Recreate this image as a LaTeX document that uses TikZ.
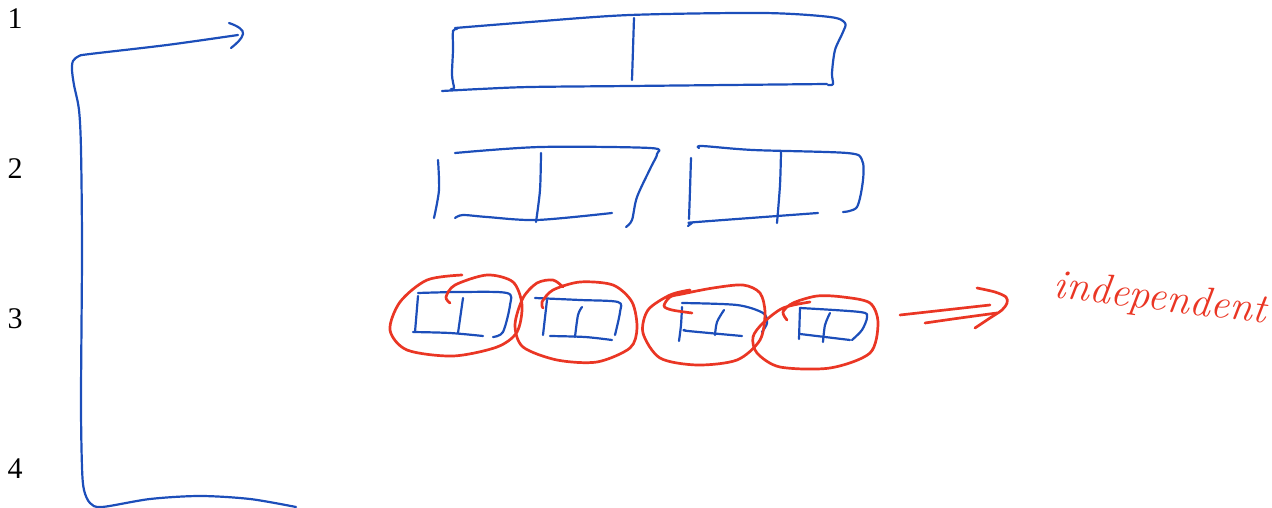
\documentclass[tikz,border=0pt]{standalone}
\usepackage{fontspec}
\usepackage{tikz}
\newfontfamily\numfont{Liberation Serif}
\definecolor{penblue}{RGB}{28,78,186}
\definecolor{penred}{RGB}{234,54,36}
\tikzset{
  bl/.style={draw=penblue,line width=2.2pt,line cap=round,line join=round},
  rd/.style={draw=penred,line width=2.7pt,line cap=round,line join=round},
  num/.style={font=\numfont\fontsize{30}{30}\selectfont,inner sep=0pt,text=black},
}
\begin{document}
\begin{tikzpicture}[x=1pt,y=-1pt]
\useasboundingbox (0,0) rectangle (1272,508);
% row numbers
\node[num] (n1) at (15,19) {1};
\node[num] (n2) at (15,169) {2};
\node[num] (n3) at (15,319) {3};
\node[num] (n4) at (15,469) {4};
% bracket arrow
\draw[bl] plot[smooth,tension=0.5] coordinates {(296,507) (250,499) (200,496) (150,499) (102,507) (90,503) (84,490) (82,467) (81,400) (82,250) (81,150) (79,110) (74,85) (72,70) (73,61) (79,56) (90,54) (167,45) (238,35)};
\draw[bl] (229,23) .. controls (238,26) and (244,30) .. (243,34) .. controls (242,39) and (236,44) .. (231,48);
% row 1
\draw[bl] plot[smooth] coordinates {(457,29) (453,31) (453,50) (452,75) (454,88) (451,89)};
\draw[bl] plot[smooth,tension=0.5] coordinates {(455,28) (530,22) (630,15) (763,13) (830,17) (845,23) (843,32) (835,50) (832,73) (833,84) (828,85)};
\draw[bl] plot[smooth] coordinates {(442,91) (480,89) (530,87) (630,86) (827,84)};
\draw[bl] (634,18) -- (632,80);
% row 2, box A
\draw[bl] plot[smooth] coordinates {(438,160) (439,190) (434,218)};
\draw[bl] plot[smooth,tension=0.5] coordinates {(455,153) (540,147) (650,148) (657,154) (651,167) (637,197) (632,220) (626,227)};
\draw[bl] plot[smooth] coordinates {(455,218) (463,215) (487,217) (537,220) (612,213)};
\draw[bl] plot[smooth] coordinates {(541,153) (540,190) (536,222)};
% row 2, box B
\draw[bl] plot[smooth] coordinates {(691,158) (690,190) (689,219)};
\draw[bl] plot[smooth,tension=0.5] coordinates {(699,148) (702,146) (753,150) (847,153) (862,160) (863,180) (857,207) (843,212)};
\draw[bl] plot[smooth] coordinates {(688,226) (692,223) (697,222) (818,213)};
\draw[bl] plot[smooth] coordinates {(781,152) (780,185) (777,223)};
% row 3 blue boxes
\draw[bl] plot[smooth,tension=0.5] coordinates {(418,293) (460,292) (507,293) (510,305) (503,332) (493,337)};
\draw[bl] (418,296) -- (415,332);
\draw[bl] plot[smooth] coordinates {(413,332) (450,333) (483,336)};
\draw[bl] (463,298) -- (458,333);
\draw[bl] plot[smooth,tension=0.5] coordinates {(535,298) (580,300) (618,302) (620,312) (615,335)};
\draw[bl] (547,300) -- (543,335);
\draw[bl] plot[smooth] coordinates {(550,336) (585,337) (612,340)};
\draw[bl] plot[smooth] coordinates {(582,307) (578,315) (575,337)};
\draw[bl] plot[smooth,tension=0.5] coordinates {(682,303) (737,305) (763,313) (767,323) (762,332)};
\draw[bl] plot[smooth] coordinates {(682,307) (681,325) (679,341)};
\draw[bl] plot[smooth] coordinates {(685,330) (688,331) (742,336)};
\draw[bl] plot[smooth] coordinates {(724,310) (717,322) (715,335)};
\draw[bl] plot[smooth,tension=0.5] coordinates {(800,308) (860,312) (867,317) (862,330) (852,340)};
\draw[bl] (800,308) -- (799,339);
\draw[bl] plot[smooth] coordinates {(800,334) (825,337) (850,340)};
\draw[bl] plot[smooth] coordinates {(830,313) (825,325) (823,342)};
% red loops
\draw[rd] plot[smooth] coordinates {(462,275) (427,280) (400,302) (390,330) (407,350) (453,356) (497,347) (517,332) (522,305) (513,282) (487,275) (455,285) (446,297) (450,303)};
\draw[rd] plot[smooth] coordinates {(563,287) (553,280) (537,283) (523,298) (515,325) (523,347) (557,360) (597,362) (630,348) (637,328) (632,302) (613,285) (580,282) (553,290) (542,302) (543,308)};
\draw[rd] plot[smooth] coordinates {(692,313) (672,310) (664,306) (670,297) (682,294) (713,288) (743,285) (760,293) (765,313) (760,340) (737,360) (697,365) (660,358) (643,333) (648,310) (670,295) (690,290)};
\draw[rd] plot[smooth] coordinates {(787,320) (783,312) (793,303) (817,296) (843,297) (870,303) (878,323) (870,353) (830,368) (780,367) (757,353) (753,337) (763,323) (783,308) (810,302)};
% red arrow
\draw[rd] plot[smooth] coordinates {(900,315) (945,310) (990,305)};
\draw[rd] plot[smooth] coordinates {(925,323) (960,318) (997,313)};
\draw[rd] plot[smooth] coordinates {(977,288) (995,292) (1006,297) (1007,303) (1002,310) (990,318) (975,328)};
\node[text=penred,font=\fontsize{42}{42}\selectfont\itshape,rotate=-7,inner sep=0pt] (indep) at (1160,300) {independent};
\end{tikzpicture}
\end{document}
